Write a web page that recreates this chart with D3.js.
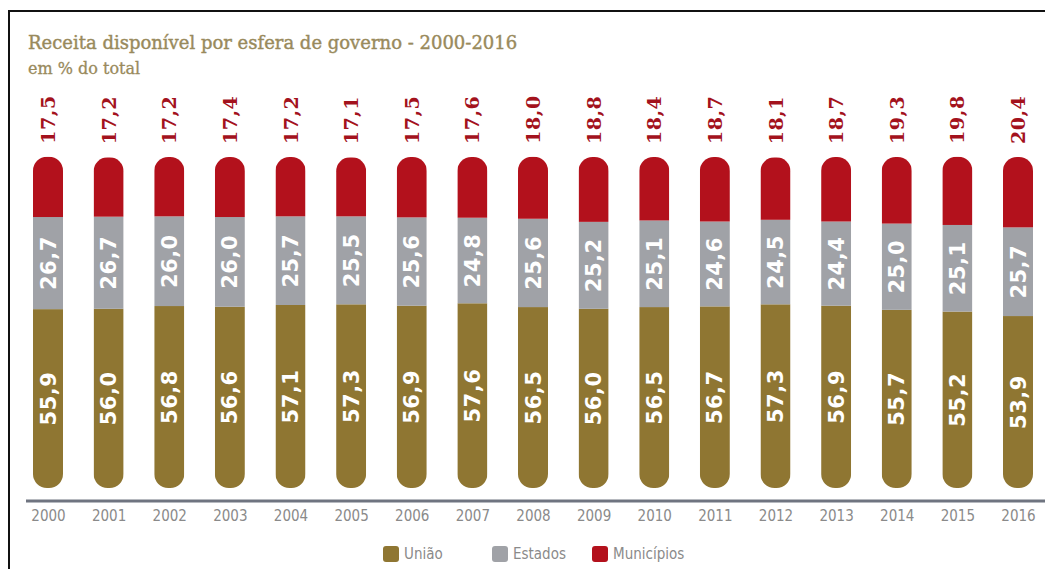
<!DOCTYPE html>
<html>
<head>
<meta charset="utf-8">
<script src="https://cdn.jsdelivr.net/npm/d3@7"></script>
<style>
  html, body { margin: 0; padding: 0; background: #fff; }
  svg { display: block; }
</style>
</head>
<body>
<svg id="chart" width="1045" height="569"></svg>
<script>
// Receita disponível por esfera de governo, % do total
const years = ["2000","2001","2002","2003","2004","2005","2006","2007","2008",
               "2009","2010","2011","2012","2013","2014","2015","2016"];
const uniao      = [55.9,56.0,56.8,56.6,57.1,57.3,56.9,57.6,56.5,56.0,56.5,56.7,57.3,56.9,55.7,55.2,53.9];
const estados    = [26.7,26.7,26.0,26.0,25.7,25.5,25.6,24.8,25.6,25.2,25.1,24.6,24.5,24.4,25.0,25.1,25.7];
const municipios = [17.5,17.2,17.2,17.4,17.2,17.1,17.5,17.6,18.0,18.8,18.4,18.7,18.1,18.7,19.3,19.8,20.4];
const seriesNames = ["União", "Estados", "Municípios"];
const colors = ["#8f7632", "#a0a2a7", "#b3111c"];

const svg = d3.select("#chart");

// frame
svg.append("path")
  .attr("d", "M9,569 L9,11 L1045,11")
  .attr("fill", "none").attr("stroke", "#111").attr("stroke-width", 2);

// titles
svg.append("text").attr("x", 28).attr("y", 49)
  .attr("font-family", "DejaVu Serif").attr("font-size", 18)
  .attr("fill", "#998a5c").attr("stroke", "#998a5c").attr("stroke-width", 0.4)
  .text("Receita disponível por esfera de governo - 2000-2016");
svg.append("text").attr("x", 28).attr("y", 74)
  .attr("font-family", "DejaVu Serif").attr("font-size", 16)
  .attr("fill", "#998a5c").attr("stroke", "#998a5c").attr("stroke-width", 0.3)
  .text("em % do total");

const x = d3.scalePoint().domain(years).range([48, 1018]);
const y = d3.scaleLinear().domain([0, 100]).range([502, 157]);
const barW = 30;
const gapBottom = 14;

const rows = years.map((yr, i) => ({ year: yr, uniao: uniao[i], estados: estados[i], municipios: municipios[i] }));
const stack = d3.stack().keys(["uniao", "estados", "municipios"])(rows);

const defs = svg.append("defs");
rows.forEach((d, i) => {
  const total = d.uniao + d.estados + d.municipios;
  defs.append("clipPath").attr("id", "clip" + i)
    .append("rect")
    .attr("x", x(d.year) - barW / 2)
    .attr("y", y(total))
    .attr("width", barW)
    .attr("height", (y(0) - gapBottom) - y(total))
    .attr("rx", 14).attr("ry", 14);
});

const layers = svg.append("g").selectAll("g").data(stack).join("g")
  .attr("fill", (d, i) => colors[i]);

layers.selectAll("rect").data(d => d).join("rect")
  .attr("clip-path", (d, i) => `url(#clip${i})`)
  .attr("x", d => x(d.data.year) - barW / 2)
  .attr("y", d => y(d[1]))
  .attr("width", barW)
  .attr("height", d => y(d[0]) - y(d[1]));

// values inside bars (União and Estados)
const inner = svg.append("g")
  .attr("font-family", "DejaVu Sans").attr("font-weight", "bold")
  .attr("font-size", 21).attr("fill", "#fff");

stack.slice(0, 2).forEach((layer, li) => {
  inner.selectAll(null).data(layer).join("text")
    .attr("transform", d => {
      const bottom = li === 0 ? y(0) - gapBottom : y(d[0]);
      const cy = (bottom + y(d[1])) / 2;
      return `translate(${x(d.data.year) + 7.5},${cy}) rotate(-90)`;
    })
    .attr("text-anchor", "middle")
    .attr("letter-spacing", 0.5)
    .text(d => d3.format(".1f")(d[1] - d[0]).replace(".", ","));
});

// Municípios values above bars
svg.append("g")
  .attr("font-family", "DejaVu Serif").attr("font-weight", "bold")
  .attr("font-size", 19).attr("fill", "#a3121d")
  .selectAll("text").data(stack[2]).join("text")
  .attr("transform", d => `translate(${x(d.data.year) + 7},${y(d[1]) - 13}) rotate(-90)`)
  .attr("letter-spacing", 0.5)
  .text(d => d3.format(".1f")(d[1] - d[0]).replace(".", ","));

// x axis
svg.append("line")
  .attr("x1", 26).attr("x2", 1045).attr("y1", 501).attr("y2", 501)
  .attr("stroke", "#6f7480").attr("stroke-width", 3);

const axis = svg.append("g").attr("transform", "translate(0,501)")
  .call(d3.axisBottom(x).tickSize(0).tickPadding(9));
axis.select(".domain").remove();
axis.selectAll("text")
  .attr("font-family", "DejaVu Sans Condensed").attr("font-size", 15)
  .attr("fill", "#8a8a8a").attr("font-stretch", "condensed");

// legend
const legendX = [383, 492, 592];
const legend = svg.append("g").selectAll("g").data(seriesNames).join("g")
  .attr("transform", (d, i) => `translate(${legendX[i]},546)`);
legend.append("rect").attr("width", 16).attr("height", 16).attr("rx", 3)
  .attr("fill", (d, i) => colors[i]);
legend.append("text").attr("x", 21).attr("y", 13)
  .attr("font-family", "DejaVu Sans Condensed").attr("font-size", 15)
  .attr("fill", "#8a8a8a")
  .text(d => d);
</script>
</body>
</html>
